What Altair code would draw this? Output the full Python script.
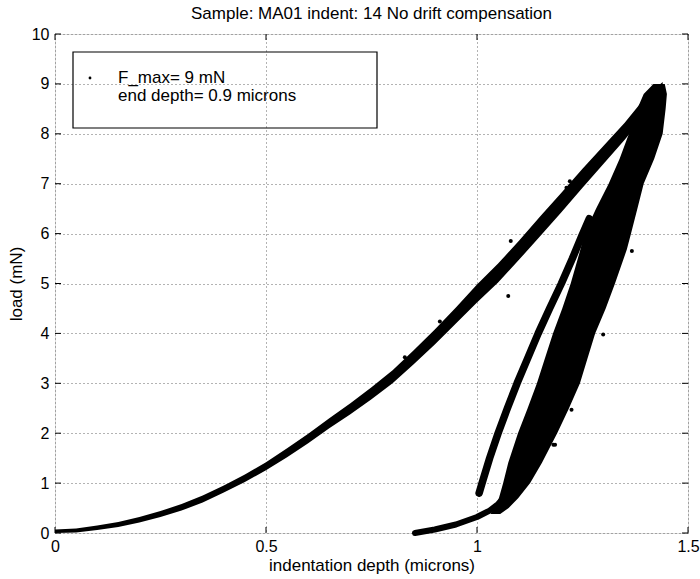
import altair as alt
import pandas as pd

FONT = "Liberation Sans"

# loading branch: indentation depth (microns) with lower / upper edge of the load band (mN)
load_depth = [0.00, 0.05, 0.10, 0.15, 0.20, 0.25, 0.30, 0.35, 0.40, 0.45, 0.50, 0.55, 0.60,
              0.65, 0.70, 0.75, 0.80, 0.85, 0.90, 0.95, 1.00, 1.05, 1.10, 1.15, 1.20, 1.25,
              1.30, 1.35, 1.40, 1.44]
load_lo = [0.00, 0.01, 0.06, 0.12, 0.21, 0.32, 0.45, 0.61, 0.81, 1.02, 1.26, 1.52, 1.80,
           2.10, 2.38, 2.68, 3.00, 3.38, 3.78, 4.20, 4.62, 5.02, 5.48, 5.95, 6.43, 6.92,
           7.40, 7.88, 8.40, 8.84]
load_hi = [0.07, 0.09, 0.15, 0.22, 0.32, 0.44, 0.58, 0.75, 0.95, 1.17, 1.42, 1.70, 1.99,
           2.30, 2.60, 2.92, 3.26, 3.66, 4.08, 4.52, 4.98, 5.40, 5.86, 6.35, 6.82, 7.30,
           7.76, 8.22, 8.74, 9.04]

# main unloading band: load (mN) with left / right depth edge (microns)
unl_load = [9.00, 8.80, 8.50, 8.00, 7.50, 7.00, 6.50, 6.00, 5.68, 5.00, 4.50, 4.00, 3.50,
            3.00, 2.50, 2.00, 1.41, 1.00, 0.70, 0.50, 0.38]
unl_left = [1.418, 1.395, 1.380, 1.360, 1.338, 1.312, 1.282, 1.255, 1.245, 1.222, 1.202,
            1.180, 1.161, 1.142, 1.120, 1.097, 1.074, 1.062, 1.052, 1.042, 1.032]
unl_right = [1.445, 1.450, 1.447, 1.440, 1.420, 1.395, 1.380, 1.365, 1.355, 1.327, 1.305,
             1.280, 1.262, 1.244, 1.218, 1.190, 1.154, 1.126, 1.098, 1.075, 1.055]

# reloading branch (centre line)
rel_depth = [1.005, 1.012, 1.030, 1.050, 1.072, 1.095, 1.120, 1.145, 1.172, 1.200, 1.226,
             1.248, 1.266]
rel_load = [0.80, 1.00, 1.50, 2.00, 2.50, 3.00, 3.50, 4.00, 4.50, 5.00, 5.50, 5.95, 6.30]

# end of unloading, down to zero load
tail_depth = [0.853, 0.900, 0.950, 1.000, 1.030, 1.050, 1.065]
tail_load = [0.00, 0.07, 0.17, 0.32, 0.45, 0.58, 0.72]

# isolated samples off the main bands
stray_depth = [1.080, 1.074, 1.212, 1.169, 1.220, 0.912, 0.829, 1.367, 1.299, 1.185, 1.224,
               1.181]
stray_load = [5.85, 4.75, 6.92, 6.45, 7.05, 4.24, 3.52, 5.65, 3.98, 1.77, 2.47, 1.77]

x_ticks = [0, 0.5, 1, 1.5]
y_ticks = [0, 1, 2, 3, 4, 5, 6, 7, 8, 9, 10]

title_text = "Sample: MA01 indent: 14 No drift compensation"
x_title = "indentation depth (microns)"
y_title = "load (mN)"
legend_lines = ["F_max= 9 mN", "end depth= 0.9 microns"]

W, H = 633, 499
xs = alt.Scale(domain=[0, 1.5], nice=False, zero=False)
ys = alt.Scale(domain=[0, 10], nice=False, zero=False)

x_axis = alt.Axis(values=x_ticks, format="~g", grid=True, gridDash=[1, 3],
                  gridColor="#666666", gridWidth=1, tickSize=0, domain=False,
                  labelFont=FONT, labelFontSize=16, labelColor="black", labelPadding=5,
                  labelFlush=False, titleFont=FONT, titleFontSize=17,
                  titleFontWeight="normal", titleColor="black", titlePadding=3)
y_axis = alt.Axis(values=y_ticks, format="d", grid=True, gridDash=[1, 3],
                  gridColor="#666666", gridWidth=1, tickSize=0, domain=False,
                  labelFont=FONT, labelFontSize=16, labelColor="black", labelPadding=6,
                  labelFlush=False, titleFont=FONT, titleFontSize=17,
                  titleFontWeight="normal", titleColor="black", titlePadding=6)


def X(field):
    return alt.X(field, type="quantitative", scale=xs, axis=x_axis, title=x_title)


def Y(field):
    return alt.Y(field, type="quantitative", scale=ys, axis=y_axis, title=y_title)


loading_df = pd.DataFrame({"depth": load_depth, "lo": load_lo, "hi": load_hi})
loading = alt.Chart(loading_df).mark_area(color="black", opacity=1).encode(
    x=X("depth"), y=Y("lo"), y2="hi")

unl_df = pd.DataFrame({"load": unl_load, "left": unl_left, "right": unl_right})
unloading = alt.Chart(unl_df).mark_area(color="black", opacity=1, orient="horizontal").encode(
    y=Y("load"), x=X("left"), x2="right")

rel_df = pd.DataFrame({"depth": rel_depth, "load": rel_load})
reload_line = alt.Chart(rel_df).mark_line(color="black", strokeWidth=7.5, strokeCap="round",
                                          strokeJoin="round").encode(
    x=X("depth"), y=Y("load"), order=alt.Order("load:Q"))

tail_df = pd.DataFrame({"depth": tail_depth, "load": tail_load})
tail_line = alt.Chart(tail_df).mark_line(color="black", strokeWidth=6, strokeCap="round",
                                         strokeJoin="round").encode(
    x=X("depth"), y=Y("load"), order=alt.Order("depth:Q"))

stray_df = pd.DataFrame({"depth": stray_depth, "load": stray_load})
stray = alt.Chart(stray_df).mark_circle(color="black", size=16, opacity=1).encode(
    x=X("depth"), y=Y("load"))

# inward tick marks on all four sides of the box
xt = pd.DataFrame({"t": x_ticks})
yt = pd.DataFrame({"t": y_ticks})
tick_style = dict(color="black", strokeWidth=1)
ticks_bottom = alt.Chart(xt).mark_rule(**tick_style).encode(
    x=X("t"), y=alt.value(H), y2=alt.value(H - 6))
ticks_top = alt.Chart(xt).mark_rule(**tick_style).encode(
    x=X("t"), y=alt.value(0), y2=alt.value(6))
ticks_left = alt.Chart(yt).mark_rule(**tick_style).encode(
    y=Y("t"), x=alt.value(0), x2=alt.value(6))
ticks_right = alt.Chart(yt).mark_rule(**tick_style).encode(
    y=Y("t"), x=alt.value(W), x2=alt.value(W - 6))

# legend box with marker and two text lines
one = pd.DataFrame({"k": [0]})
legend_box = alt.Chart(one).mark_rect(fill=None, stroke="black", strokeWidth=1.2).encode(
    x=alt.value(18), x2=alt.value(322), y=alt.value(18), y2=alt.value(94))
legend_dot = alt.Chart(one).mark_circle(color="black", size=8, opacity=1).encode(
    x=alt.value(35), y=alt.value(44))
legend_text = [
    alt.Chart(pd.DataFrame({"line": [txt]})).mark_text(
        font=FONT, fontSize=17, align="left", baseline="middle", color="black"
    ).encode(x=alt.value(63), y=alt.value(44 + 18 * i), text="line:N")
    for i, txt in enumerate(legend_lines)
]

chart = alt.layer(
    loading, unloading, reload_line, tail_line, stray,
    ticks_bottom, ticks_top, ticks_left, ticks_right,
    legend_box, legend_dot, *legend_text,
).properties(
    width=W, height=H,
    title=alt.TitleParams(title_text, font=FONT, fontSize=17, fontWeight="normal",
                          color="black", anchor="middle", offset=3),
    autosize=alt.AutoSizeParams(type="none"),
    padding={"left": 55, "top": 34, "right": 12, "bottom": 46},
).configure_view(stroke="black", strokeWidth=1).configure(background="white")

chart.save("out.html", embed_options={"renderer": "svg", "actions": False})
